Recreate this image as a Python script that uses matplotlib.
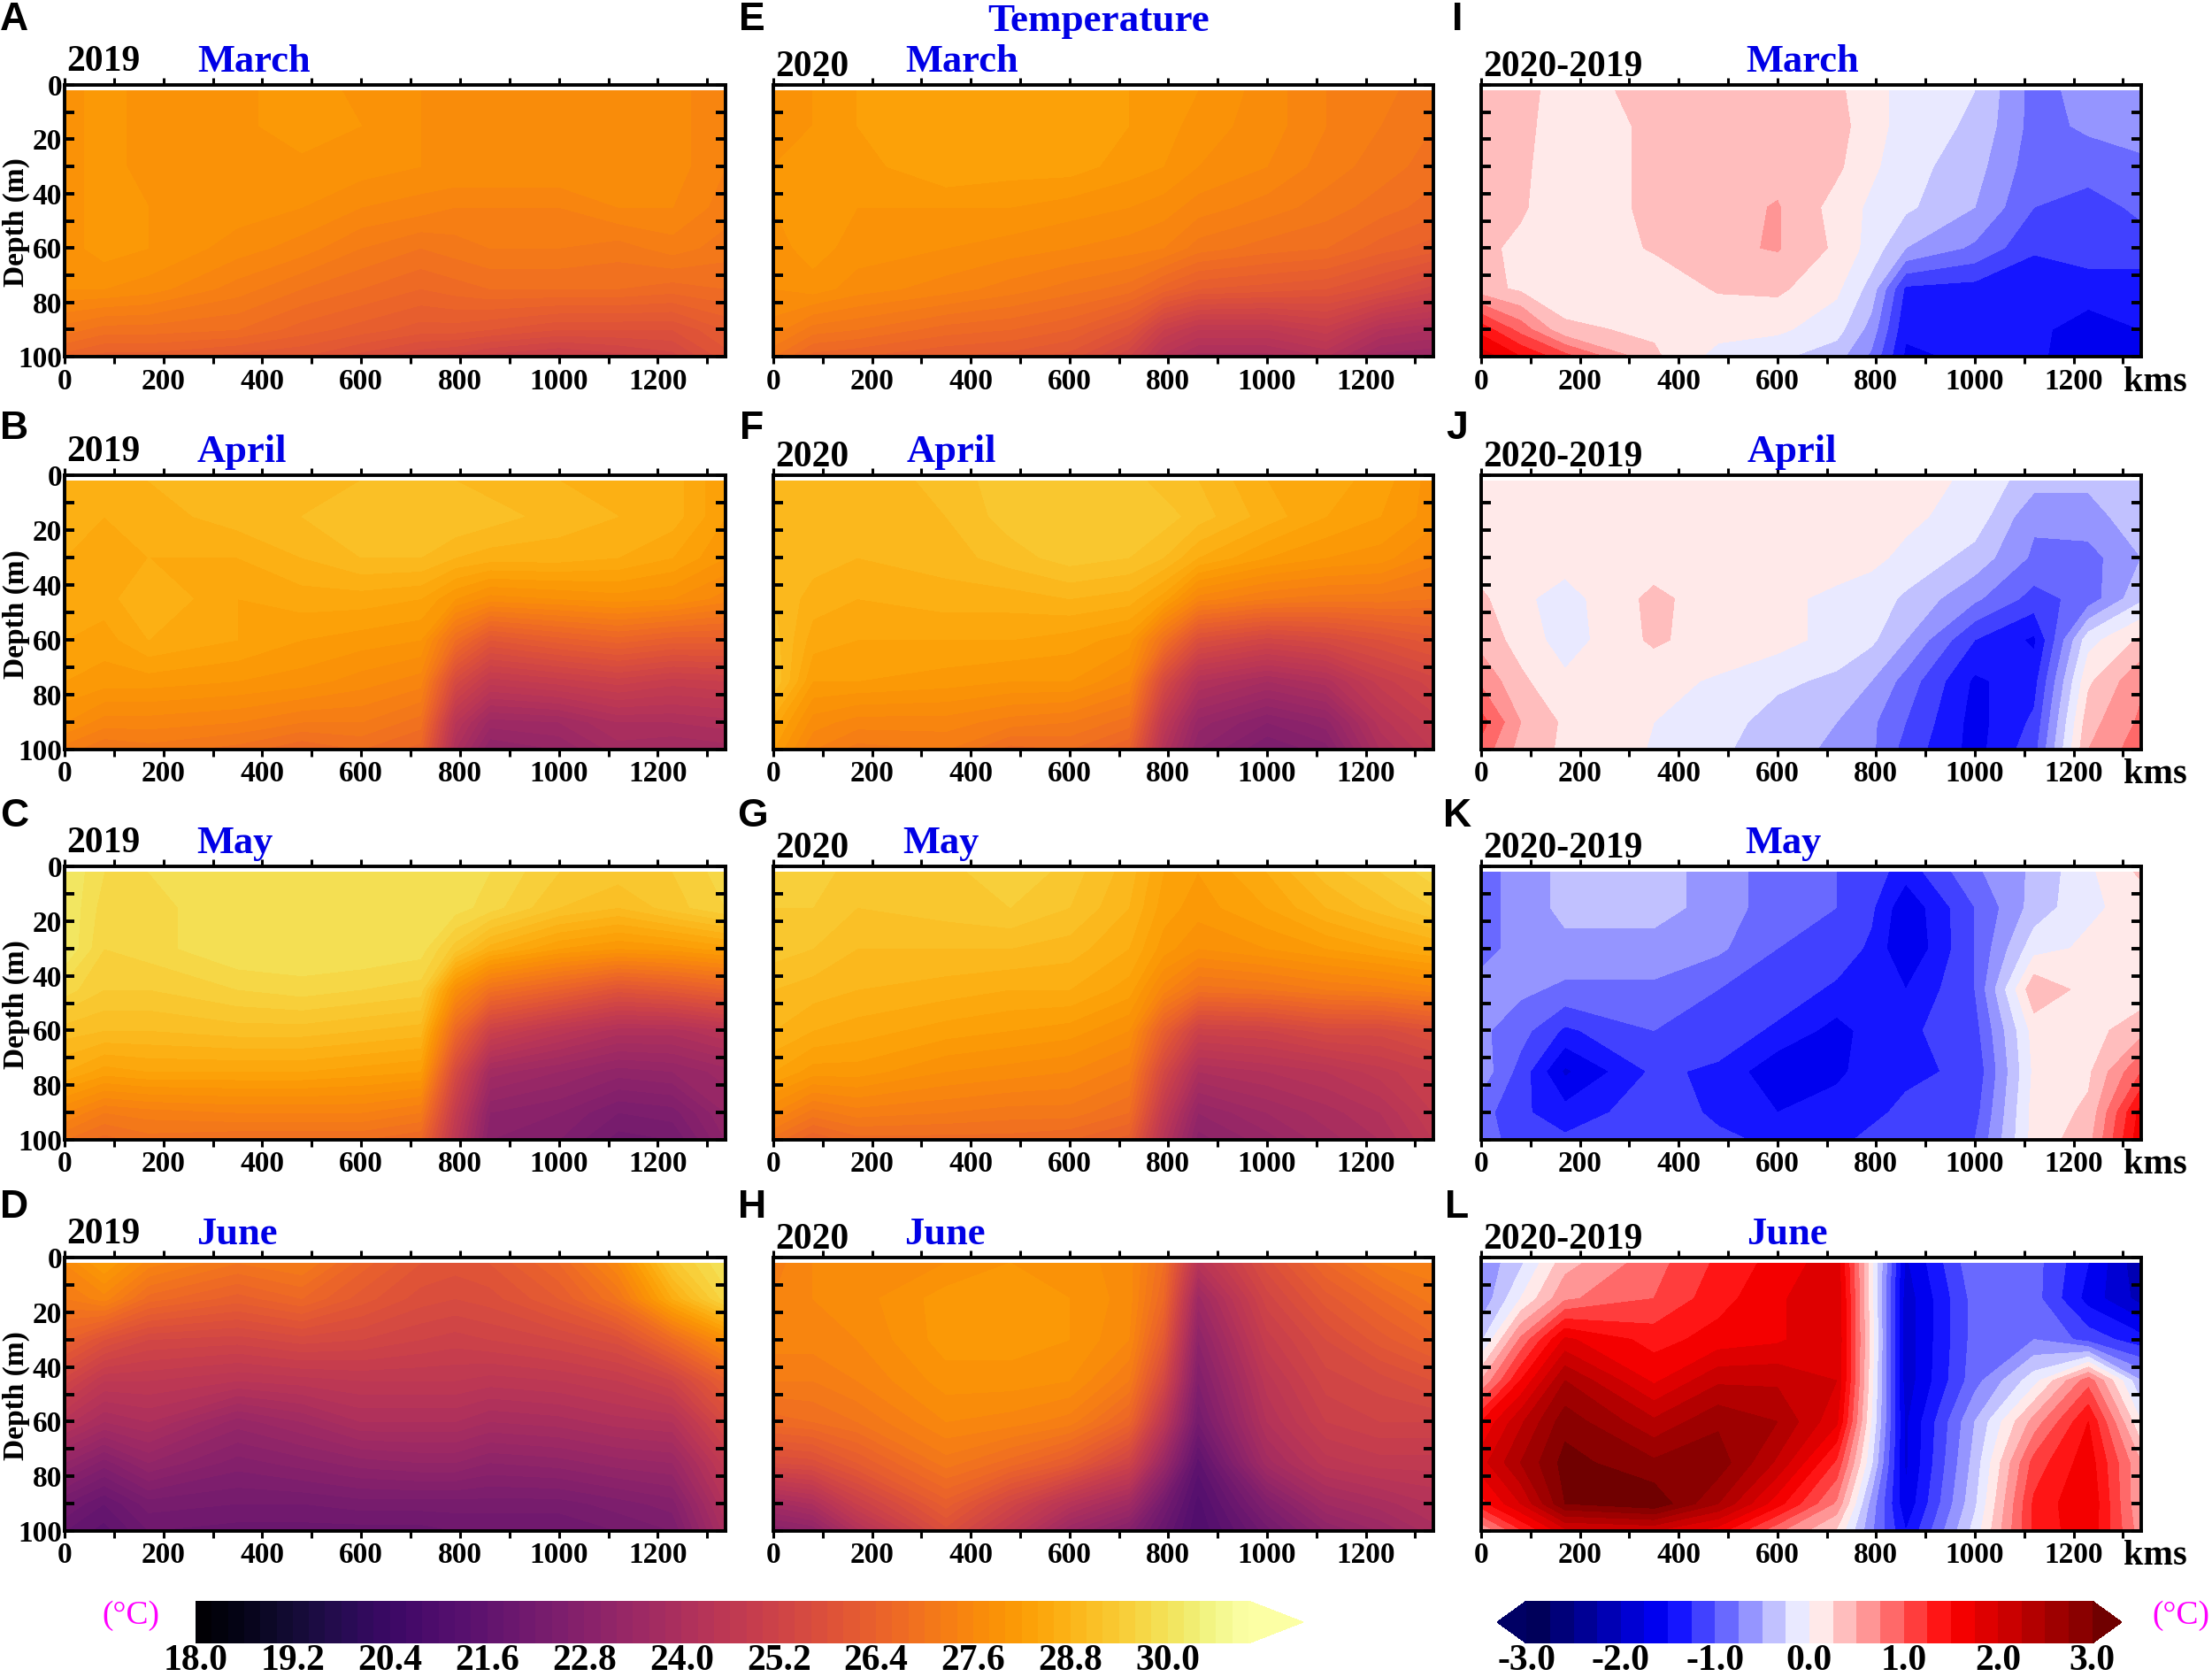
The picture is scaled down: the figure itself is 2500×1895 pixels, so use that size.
import numpy as np
import matplotlib
matplotlib.use("Agg")
import matplotlib.pyplot as plt
from matplotlib.colors import BoundaryNorm, ListedColormap

plt.rcParams['font.family'] = ['Liberation Serif', 'DejaVu Serif']
plt.rcParams['font.weight'] = 'bold'

# station positions (km) and depths (m) of the sections
dist = [0, 80, 170, 350, 480, 600, 720, 790, 860, 1000, 1120, 1230, 1337]
depth = [2, 15, 30, 45, 60, 75, 90, 100]

t2019_mar = [
    [27.9, 28.1, 27.9, 27.9, 28.2, 27.9, 27.8, 27.8, 27.8, 27.8, 27.8, 27.7, 27.4],
    [27.9, 28.1, 27.9, 27.9, 28.2, 28.0, 27.8, 27.8, 27.8, 27.8, 27.8, 27.7, 27.4],
    [27.9, 28.1, 27.9, 27.9, 27.9, 27.9, 27.8, 27.8, 27.8, 27.8, 27.8, 27.7, 27.4],
    [27.9, 28.1, 28.0, 27.9, 27.8, 27.6, 27.5, 27.4, 27.4, 27.4, 27.6, 27.6, 27.3],
    [27.9, 28.1, 28.0, 27.7, 27.5, 27.2, 27.0, 27.1, 27.2, 27.2, 27.1, 27.3, 27.1],
    [27.8, 27.8, 27.7, 27.3, 27.0, 26.8, 26.6, 26.7, 26.8, 26.8, 26.8, 26.7, 26.8],
    [27.1, 26.9, 26.9, 26.8, 26.5, 26.3, 26.1, 26.1, 26.0, 25.8, 25.8, 25.8, 26.2],
    [26.5, 26.3, 26.3, 26.1, 26.0, 25.7, 25.4, 25.3, 25.1, 24.9, 25.1, 25.3, 25.9],
]
t2020_mar = [
    [28.0, 28.0, 28.2, 28.4, 28.4, 28.3, 28.2, 28.1, 28.0, 27.7, 27.4, 27.3, 27.0],
    [28.0, 28.0, 28.2, 28.4, 28.4, 28.3, 28.2, 28.1, 27.9, 27.7, 27.4, 27.2, 27.0],
    [28.0, 28.1, 28.1, 28.4, 28.3, 28.3, 28.1, 28.0, 27.8, 27.6, 27.3, 27.1, 26.9],
    [28.0, 28.1, 28.0, 28.0, 28.0, 27.9, 27.8, 27.7, 27.5, 27.3, 27.1, 26.9, 26.7],
    [27.9, 28.1, 27.9, 27.8, 27.7, 27.6, 27.5, 27.4, 27.1, 26.9, 26.8, 26.5, 26.3],
    [27.8, 27.9, 27.7, 27.5, 27.3, 27.1, 26.9, 26.5, 26.2, 26.1, 26.0, 25.7, 25.3],
    [27.5, 27.1, 27.0, 26.7, 26.6, 26.4, 25.9, 25.0, 24.6, 24.6, 24.9, 24.2, 24.0],
    [27.0, 26.5, 26.4, 26.2, 26.1, 25.9, 25.2, 24.3, 23.9, 23.9, 24.2, 23.5, 23.4],
]
diff_mar = [
    [.35, .35, .12, .35, .4, .4, .3, .1, -.1, -.25, -.85, -.65, -.6],
    [.35, .33, .1, .3, .4, .4, .35, .1, -.1, -.3, -.85, -.7, -.65],
    [.35, .3, .1, .3, .4, .4, .3, .05, -.15, -.4, -.9, -.9, -.8],
    [.35, .28, .1, .3, .4, .52, .15, -.05, -.2, -.5, -1.0, -1.1, -.95],
    [.3, .2, .1, .27, .45, .52, .2, -.1, -.5, -.8, -1.2, -1.1, -1.1],
    [.35, .2, .1, .12, .27, .3, .05, -.35, -1.3, -1.35, -1.5, -1.4, -1.4],
    [1.4, .9, .3, .2, .1, .05, -.15, -.6, -1.45, -1.45, -1.45, -1.6, -1.5],
    [1.9, 1.5, 1.1, .3, -.1, -.2, -.4, -.8, -1.55, -1.45, -1.45, -1.65, -1.5],
]
t2019_apr = [
    [28.8, 28.7, 28.8, 28.9, 28.9, 29.0, 29.0, 29.0, 28.9, 28.8, 28.8, 28.7, 28.2],
    [28.7, 28.6, 28.7, 28.9, 29.0, 29.1, 29.2, 29.2, 29.1, 28.9, 28.8, 28.7, 28.2],
    [28.6, 28.6, 28.6, 28.6, 28.8, 29.0, 29.0, 28.8, 28.7, 28.7, 28.6, 28.4, 28.0],
    [28.5, 28.5, 28.8, 28.4, 28.5, 28.5, 28.4, 28.0, 27.7, 27.8, 27.9, 27.8, 27.5],
    [28.4, 28.3, 28.6, 28.4, 28.2, 28.1, 28.0, 26.8, 26.0, 26.3, 26.5, 26.3, 26.3],
    [28.2, 28.1, 28.1, 28.0, 27.9, 27.7, 27.5, 25.5, 24.7, 24.9, 25.1, 24.9, 25.0],
    [27.8, 27.5, 27.5, 27.4, 27.2, 27.2, 26.9, 24.4, 23.5, 23.6, 24.0, 24.0, 24.1],
    [27.3, 27.0, 27.1, 26.9, 26.6, 26.8, 26.5, 24.0, 23.0, 23.2, 23.7, 23.6, 23.7],
]
t2020_apr = [
    [28.8, 28.9, 28.8, 29.1, 29.3, 29.4, 29.3, 29.1, 29.0, 28.6, 28.5, 28.3, 27.9],
    [28.9, 28.9, 28.8, 29.0, 29.3, 29.4, 29.4, 29.3, 29.1, 28.7, 28.4, 28.2, 27.9],
    [29.0, 28.9, 28.8, 28.9, 29.1, 29.3, 29.2, 29.0, 28.6, 28.2, 28.0, 27.9, 27.5],
    [29.0, 28.7, 28.6, 28.7, 28.7, 28.8, 28.7, 28.3, 27.5, 27.2, 27.1, 27.1, 27.0],
    [29.1, 28.5, 28.4, 28.4, 28.4, 28.3, 28.1, 26.9, 25.7, 25.3, 25.5, 25.8, 26.1],
    [29.2, 28.2, 28.2, 28.1, 28.0, 28.0, 27.6, 25.5, 24.2, 23.8, 24.1, 24.9, 25.3],
    [28.5, 27.7, 27.5, 27.5, 27.3, 27.2, 26.9, 24.6, 23.3, 22.8, 23.1, 24.3, 24.9],
    [28.2, 27.4, 27.1, 27.2, 26.7, 26.8, 26.4, 24.2, 23.0, 22.4, 22.7, 24.0, 24.6],
]
diff_apr = [
    [.1, .1, .1, .1, .1, .1, .1, .1, .1, -.05, -.4, -.45, -.3],
    [.1, .1, .1, .1, .1, .1, .1, .1, .05, -.1, -.7, -.6, -.35],
    [.1, .1, .1, .1, .1, .1, .1, .05, -.05, -.35, -.8, -.85, -.5],
    [.3, .05, -.1, .32, .1, .05, -.05, -.1, -.3, -.7, -1.1, -.9, -.3],
    [.4, .15, -.12, .3, .1, .1, -.1, -.2, -.5, -1.25, -1.55, -.1, .3],
    [.7, .3, .05, .05, -.02, -.2, -.3, -.5, -.85, -1.55, -1.35, .2, .7],
    [1.1, .5, .2, 0, -.15, -.35, -.5, -.7, -1.0, -1.6, -1.2, .4, .8],
    [.9, .4, .2, -.02, -.2, -.4, -.55, -.7, -1.1, -1.6, -1.1, .5, .9],
]
t2019_may = [
    [30.2, 29.8, 29.8, 30.0, 30.0, 30.0, 30.0, 30.0, 29.8, 29.4, 29.3, 29.4, 29.7],
    [30.2, 29.7, 29.7, 30.0, 30.0, 30.0, 30.0, 29.9, 29.7, 29.2, 29.0, 29.3, 29.6],
    [30.2, 29.6, 29.7, 30.0, 30.0, 30.0, 29.9, 29.3, 28.7, 28.2, 28.0, 28.1, 28.3],
    [29.7, 29.4, 29.4, 29.6, 29.7, 29.6, 29.5, 27.8, 26.9, 26.4, 25.9, 26.1, 26.4],
    [29.1, 29.0, 29.0, 29.1, 29.1, 29.0, 28.9, 26.6, 25.1, 24.5, 24.1, 24.1, 24.4],
    [28.6, 28.3, 28.4, 28.4, 28.4, 28.3, 28.2, 25.5, 23.7, 23.4, 23.1, 23.2, 23.5],
    [27.6, 27.2, 27.3, 27.4, 27.4, 27.4, 27.2, 24.8, 23.0, 22.8, 22.4, 22.5, 23.2],
    [27.0, 26.7, 26.9, 26.8, 26.8, 26.8, 26.6, 24.5, 22.8, 22.6, 22.1, 22.2, 23.0],
]
t2020_may = [
    [29.5, 29.5, 29.3, 29.3, 29.6, 29.3, 28.9, 28.4, 28.2, 28.6, 29.1, 29.4, 29.7],
    [29.4, 29.4, 29.2, 29.3, 29.4, 29.2, 28.8, 28.3, 28.1, 28.4, 28.8, 29.1, 29.4],
    [29.3, 29.2, 29.0, 29.0, 29.0, 28.9, 28.6, 28.1, 27.8, 28.0, 28.2, 28.4, 28.6],
    [29.0, 28.9, 28.8, 28.7, 28.6, 28.6, 28.3, 27.5, 26.9, 27.0, 27.2, 27.3, 27.5],
    [28.8, 28.6, 28.5, 28.3, 28.2, 28.1, 27.8, 26.3, 25.1, 25.2, 25.5, 25.5, 25.8],
    [28.4, 28.1, 28.1, 27.8, 27.7, 27.6, 27.3, 25.4, 24.0, 24.2, 24.4, 24.7, 25.0],
    [27.6, 27.1, 27.3, 27.2, 27.1, 27.1, 26.8, 24.7, 23.2, 23.6, 23.9, 24.2, 24.8],
    [26.9, 26.4, 26.7, 26.7, 26.7, 26.6, 26.3, 24.3, 22.9, 23.3, 23.7, 24.0, 24.6],
]
diff_may = [
    [-.8, -.7, -.4, -.4, -.6, -.9, -1.0, -1.1, -1.4, -.8, -.45, -.05, .3],
    [-.8, -.7, -.4, -.4, -.6, -.9, -1.0, -1.2, -1.7, -1.0, -.4, -.05, .1],
    [-.8, -.7, -.6, -.6, -.7, -1.0, -1.1, -1.3, -1.75, -1.0, -.1, .05, .2],
    [-.7, -.7, -.8, -.8, -1.0, -1.1, -1.3, -1.4, -1.5, -1.0, .45, .15, .1],
    [-.7, -.9, -1.3, -1.0, -1.1, -1.3, -1.6, -1.4, -1.3, -1.1, .1, .15, .4],
    [-.6, -1.1, -1.8, -1.2, -1.3, -1.7, -1.55, -1.4, -1.3, -1.2, .05, .2, 1.0],
    [-.9, -1.2, -1.4, -1.1, -1.3, -1.5, -1.4, -1.3, -1.2, -1.1, .1, .3, 1.6],
    [-.9, -1.1, -1.2, -1.0, -1.2, -1.3, -1.3, -1.2, -1.2, -1.0, .1, .4, 1.7],
]
t2019_jun = [
    [27.6, 28.2, 27.5, 27.0, 27.2, 26.5, 26.0, 25.9, 26.0, 26.6, 27.6, 29.3, 30.0],
    [27.2, 27.5, 26.7, 26.3, 26.6, 26.1, 25.7, 25.6, 25.7, 26.2, 27.0, 28.6, 29.7],
    [26.4, 25.8, 25.4, 25.3, 25.5, 25.4, 25.2, 25.1, 25.2, 25.4, 25.7, 26.7, 27.8],
    [25.3, 24.6, 24.6, 24.4, 24.5, 24.6, 24.6, 24.6, 24.5, 24.6, 24.8, 25.2, 26.3],
    [24.3, 23.8, 24.0, 23.3, 23.6, 24.0, 24.0, 24.0, 23.8, 23.9, 24.1, 24.2, 25.5],
    [23.2, 22.7, 23.2, 22.7, 22.9, 23.1, 23.2, 23.2, 23.0, 23.1, 23.3, 23.4, 24.7],
    [22.2, 21.8, 22.3, 22.2, 22.2, 22.3, 22.3, 22.3, 22.3, 22.3, 22.5, 22.7, 24.2],
    [21.8, 21.5, 22.0, 21.9, 21.9, 21.9, 21.9, 22.0, 22.0, 22.0, 22.2, 22.4, 23.9],
]
t2020_jun = [
    [27.3, 27.6, 27.7, 27.8, 28.0, 27.9, 27.7, 26.8, 24.3, 25.7, 26.6, 27.2, 27.3],
    [27.4, 27.6, 27.7, 28.1, 28.1, 28.0, 27.7, 26.6, 23.5, 25.3, 26.1, 26.6, 27.1],
    [27.5, 27.5, 27.6, 28.1, 28.1, 28.0, 27.6, 26.1, 23.0, 24.9, 25.6, 26.1, 26.5],
    [27.2, 27.2, 27.4, 27.9, 27.9, 27.8, 27.2, 25.4, 22.6, 24.5, 25.3, 25.5, 25.8],
    [26.7, 26.8, 27.0, 27.6, 27.5, 27.3, 26.5, 24.5, 22.2, 24.2, 25.0, 25.2, 25.2],
    [25.6, 25.7, 26.2, 27.1, 26.7, 26.2, 25.2, 23.4, 21.5, 23.7, 24.5, 24.7, 24.7],
    [23.7, 24.0, 25.0, 26.3, 25.3, 24.3, 23.6, 22.2, 21.1, 22.6, 23.6, 23.9, 24.2],
    [22.8, 23.0, 24.1, 25.7, 24.6, 23.4, 22.7, 21.8, 21.0, 22.1, 23.0, 23.4, 23.9],
]
diff_jun = [
    [-.7, -.3, .4, .9, 1.3, 1.6, 1.9, .1, -1.8, -.8, -.9, -1.5, -2.2],
    [-.7, 0, .7, 1.0, 1.4, 1.7, 2.0, .1, -1.9, -.9, -.9, -1.6, -2.1],
    [-.3, .8, 1.8, 1.4, 1.6, 1.7, 2.0, .15, -1.9, -.9, -.75, -1.1, -1.4],
    [.5, 1.5, 2.5, 1.7, 2.2, 2.2, 2.0, .1, -1.9, -.85, -.1, .9, -.5],
    [1.5, 2.2, 2.9, 2.3, 2.7, 2.5, 1.8, 0, -1.8, -.5, .6, 1.5, 0],
    [1.9, 2.5, 3.1, 2.8, 2.9, 2.2, 1.2, -.2, -1.8, -.4, 1.1, 1.65, .5],
    [1.4, 2.0, 3.0, 3.2, 2.5, 1.6, .7, -.6, -1.7, -.3, 1.3, 1.75, .5],
    [.5, 1.2, 1.9, 2.0, 1.6, .8, .2, -.7, -1.5, -.15, 1.3, 1.7, .6],
]

months = ["March", "April", "May", "June"]
year_labels = ["2019", "2020", "2020-2019"]
panel_letters = ["A", "E", "I", "B", "F", "J", "C", "G", "K", "D", "H", "L"]
temp_ticks = [18.0, 19.2, 20.4, 21.6, 22.8, 24.0, 25.2, 26.4, 27.6, 28.8, 30.0]
diff_ticks = [-3.0, -2.0, -1.0, 0.0, 1.0, 2.0, 3.0]

sections = [
    [t2019_mar, t2020_mar, diff_mar],
    [t2019_apr, t2020_apr, diff_apr],
    [t2019_may, t2020_may, diff_may],
    [t2019_jun, t2020_jun, diff_jun],
]

W, H = 2500, 1895
fig = plt.figure(figsize=(W / 100, H / 100), dpi=100)


def px_axes(x0, y0, x1, y1):
    # axes from pixel box, y measured from the top
    return fig.add_axes([x0 / W, 1 - y1 / H, (x1 - x0) / W, (y1 - y0) / H])


def px_text(x, y, s, **kw):
    kw.setdefault("ha", "center")
    kw.setdefault("va", "center")
    fig.text(x / W, 1 - y / H, s, **kw)


# colour scales
temp_levels = np.linspace(18, 31, 66)
temp_cols = plt.cm.inferno((np.arange(65) + 0.5) / 65)
temp_cmap = ListedColormap(temp_cols).with_extremes(over=plt.cm.inferno(1.0))
temp_norm = BoundaryNorm(temp_levels, 65)

diff_levels = np.arange(-3, 3.01, 0.25)
diff_cols = plt.cm.seismic((np.arange(24) + 0.5) / 24)
diff_cmap = ListedColormap(diff_cols).with_extremes(under="#000064", over="#700000")
diff_norm = BoundaryNorm(diff_levels, 24)

col_left = [73, 874, 1674]
col_right = [820, 1620, 2420]
row_top = [96, 537, 979, 1421]
row_bot = [403, 847, 1288, 1730]
title_x = [[287, 1087, 2037], [273, 1075, 2025], [265, 1063, 2015], [268, 1068, 2020]]
letter_y = [22, 485, 923, 1365]
letter_x = [16, 850, 1647]

for r in range(4):
    for c in range(3):
        ax = px_axes(col_left[c], row_top[r], col_right[c], row_bot[r])
        z = np.array(sections[r][c])
        if c < 2:
            cs_temp = ax.contourf(dist, depth, z, levels=temp_levels, cmap=temp_cmap,
                                  norm=temp_norm, extend="max")
        else:
            cs_diff = ax.contourf(dist, depth, z, levels=diff_levels, cmap=diff_cmap,
                                  norm=diff_norm, extend="both")
        ax.set_xlim(0, 1337)
        ax.set_ylim(100, 0)
        ax.set_xticks(np.arange(0, 1301, 100))
        ax.set_xticklabels([str(v) if v % 200 == 0 else "" for v in range(0, 1301, 100)])
        ax.set_yticks(np.arange(0, 101, 10))
        if c == 0:
            ax.set_yticklabels([str(v) if v % 20 == 0 else "" for v in range(0, 101, 10)])
        else:
            ax.set_yticklabels([])
        ax.tick_params(axis="x", which="major", direction="out", top=True, length=6, width=2.2,
                       labelsize=24, pad=3)
        ax.tick_params(axis="y", which="major", direction="in", right=True, length=8, width=2.8,
                       labelsize=24, pad=2)
        if c > 0:
            ax.tick_params(axis="y", left=True)
        for sp in ax.spines.values():
            sp.set_linewidth(2.8)

        px_text(title_x[r][c], row_top[r] - 26, months[r], color="#0000e6", fontsize=32)
        yr_y = row_top[r] - (26 if c == 0 else 20)
        px_text(col_left[c] + 2, yr_y, year_labels[c], ha="left", fontsize=30)
        px_text(letter_x[c], letter_y[r], panel_letters[r * 3 + c], family="Liberation Sans", fontsize=32)

    px_text(18, (row_top[r] + row_bot[r]) / 2 + 2, "Depth (m)", rotation=90, fontsize=24)
    px_text(2400, row_bot[r] + 29, "kms", ha="left", fontsize=29)

px_text(1242, 24, "Temperature", color="#0000e6", fontsize=32.5)

# colour bars
cax1 = px_axes(221, 1809, 1473, 1857)
cb1 = fig.colorbar(cs_temp, cax=cax1, orientation="horizontal", extend="max", extendfrac=0.052,
                   spacing="proportional", ticks=temp_ticks, format="%.1f")
cb1.outline.set_visible(False)
cb1.ax.tick_params(length=0, labelsize=30, pad=1)
cb1.ax.minorticks_off()

cax2 = px_axes(1692, 1809, 2398, 1857)
cb2 = fig.colorbar(cs_diff, cax=cax2, orientation="horizontal", extend="both", extendfrac=0.052,
                   spacing="proportional", ticks=diff_ticks, format="%.1f")
cb2.outline.set_visible(False)
cb2.ax.tick_params(length=0, labelsize=30, pad=1)
cb2.ax.minorticks_off()

px_text(148, 1826, "(°C)", color="#ff00ff", fontsize=27, fontweight="normal")
px_text(2465, 1826, "(°C)", color="#ff00ff", fontsize=27, fontweight="normal")

fig.savefig("out.png", dpi=100)
